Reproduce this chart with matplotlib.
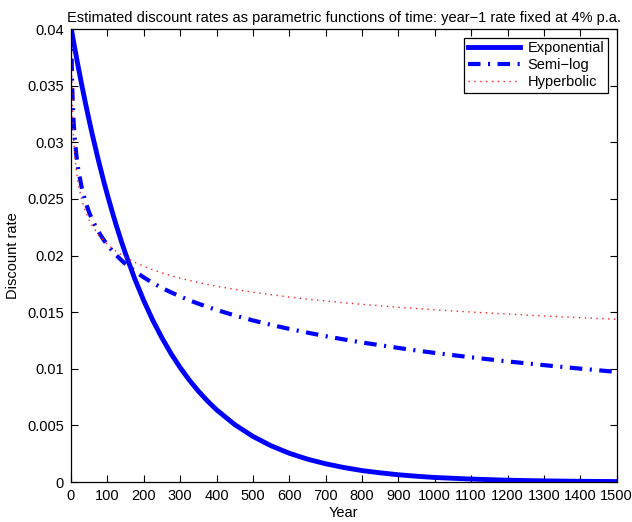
import matplotlib
matplotlib.use("Agg")
import matplotlib.pyplot as plt

plt.rcParams['font.family'] = ['Liberation Sans', 'DejaVu Sans']

years = [1, 2, 3, 5, 7, 10, 15, 20, 30, 40, 50, 60, 75, 90, 100, 115, 125, 140, 150,
         175, 200, 225, 250, 275, 300, 325, 350, 375, 400, 450, 500, 550, 600, 650,
         700, 750, 800, 850, 900, 950, 1000, 1100, 1200, 1300, 1400, 1500]

exponential = [0.04, 0.03982, 0.03963, 0.03927, 0.03891, 0.03838, 0.03751, 0.03665,
               0.03500, 0.03343, 0.03193, 0.03049, 0.02846, 0.02656, 0.02537, 0.02368,
               0.02261, 0.02110, 0.02016, 0.01797, 0.01602, 0.01427, 0.01273, 0.01134,
               0.01011, 0.00901, 0.00803, 0.00716, 0.00638, 0.00507, 0.00403, 0.00320,
               0.00254, 0.00202, 0.00161, 0.00128, 0.00101, 0.00081, 0.00064, 0.00051,
               0.00040, 0.00026, 0.00016, 0.00010, 0.000064, 0.00004]

semilog = [0.04, 0.03713, 0.03545, 0.03334, 0.03194, 0.03047, 0.02879, 0.02760,
           0.02592, 0.02473, 0.02380, 0.02305, 0.02213, 0.02137, 0.02094, 0.02036,
           0.02001, 0.01954, 0.01925, 0.01862, 0.01807, 0.01758, 0.01714, 0.01675,
           0.01639, 0.01605, 0.01575, 0.01546, 0.01520, 0.01471, 0.01427, 0.01388,
           0.01352, 0.01319, 0.01288, 0.01259, 0.01232, 0.01208, 0.01184, 0.01161,
           0.01140, 0.01101, 0.01065, 0.01032, 0.01001, 0.00972]

hyperbolic = [0.04, 0.03630, 0.03430, 0.03193, 0.03046, 0.02898, 0.02738, 0.02630,
              0.02485, 0.02387, 0.02313, 0.02255, 0.02186, 0.02130, 0.02099, 0.02059,
              0.02035, 0.02003, 0.01983, 0.01941, 0.01905, 0.01874, 0.01847, 0.01822,
              0.01800, 0.01780, 0.01762, 0.01745, 0.01729, 0.01701, 0.01676, 0.01654,
              0.01634, 0.01615, 0.01599, 0.01583, 0.01569, 0.01556, 0.01543, 0.01532,
              0.01521, 0.01501, 0.01483, 0.01466, 0.01451, 0.01437]

xticks = list(range(0, 1501, 100))
yticks = [0, 0.005, 0.01, 0.015, 0.02, 0.025, 0.03, 0.035, 0.04]
ytick_labels = ['0', '0.005', '0.01', '0.015', '0.02', '0.025', '0.03', '0.035', '0.04']

fig = plt.figure(figsize=(6.32, 5.22), dpi=100)
ax = fig.add_axes([0.1123, 0.0766, 0.8635, 0.8678])

ax.plot(years, exponential, color='#0000ff', lw=3.5, ls='-', label='Exponential')
ax.plot(years, semilog, color='#0000ff', lw=3.0, ls=(0, (3, 1.8, 0.5, 1.8)), label='Semi\u2212log')
ax.plot(years, hyperbolic, color='#ff2020', lw=1.0, ls=(0, (1, 3.2)), label='Hyperbolic')

ax.set_xlim(0, 1500)
ax.set_ylim(0, 0.04)
ax.set_xticks(xticks)
ax.set_xticklabels([str(v) for v in xticks])
ax.set_yticks(yticks)
ax.set_yticklabels(ytick_labels)
ax.tick_params(direction='in', top=True, right=True, length=5, width=0.8,
               labelsize=10.5)
ax.tick_params(axis='x', pad=5)
ax.tick_params(axis='y', pad=5)
for s in ax.spines.values():
    s.set_linewidth(0.9)

ax.set_xlabel('Year', fontsize=10.5, labelpad=2)
ax.set_ylabel('Discount rate', fontsize=10.5, labelpad=5)
ax.set_title('Estimated discount rates as parametric functions of time: year\u22121 rate fixed at 4% p.a.',
             fontsize=10.5, pad=5)

leg = ax.legend(loc='upper right', fontsize=10.5, frameon=True, fancybox=False,
                edgecolor='black', framealpha=1, borderpad=0.25, labelspacing=0.2,
                handlelength=3.6, handletextpad=0.5, borderaxespad=0.6)
leg.get_frame().set_linewidth(0.9)

fig.savefig('out.png', dpi=100)
